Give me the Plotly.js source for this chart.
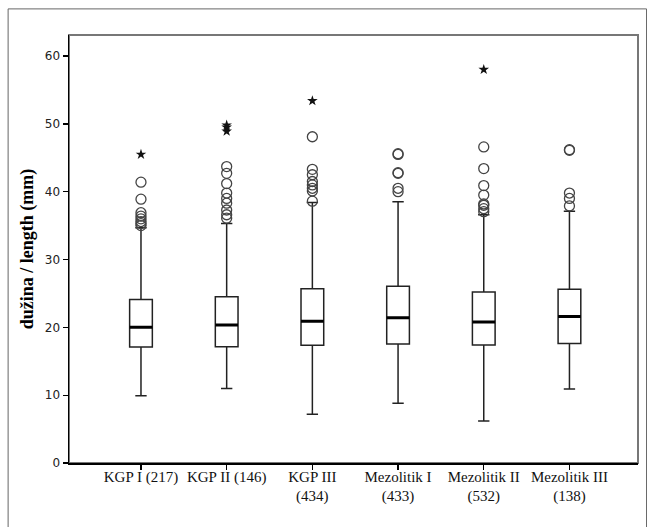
<!DOCTYPE html>
<html>
<head>
<meta charset="utf-8">
<script src="https://cdn.plot.ly/plotly-3.0.1.min.js"></script>
<style>html,body{margin:0;padding:0;background:#fff;}#chart{width:647px;height:527px;}</style>
</head>
<body>
<div id="chart"></div>
<script>
// ---- data (mm) ----
const categories = ["KGP I (217)", "KGP II (146)", "KGP III<br>(434)", "Mezolitik I<br>(433)", "Mezolitik II<br>(532)", "Mezolitik III<br>(138)"];
const q1 = [17.1, 17.15, 17.35, 17.55, 17.4, 17.6];
const medians = [20.0, 20.35, 20.9, 21.4, 20.8, 21.6];
const q3 = [24.1, 24.5, 25.7, 26.05, 25.2, 25.6];
const lowerWhisker = [9.9, 11.0, 7.2, 8.8, 6.2, 10.9];
const upperWhisker = [34.7, 35.3, 38.4, 38.5, 36.6, 37.1];

const outliersKGP1 = [35.0, 35.3, 35.6, 36.0, 36.4, 36.9, 38.9, 41.4];
const outliersKGP2 = [36.1, 36.6, 37.3, 38.3, 39.0, 39.8, 41.2, 42.7, 43.7];
const outliersKGP3 = [38.6, 40.1, 40.5, 41.0, 41.5, 42.5, 43.3, 48.1];
const outliersMez1 = [40.0, 40.5, 42.7, 42.8, 45.5, 45.6];
const outliersMez2 = [37.05, 37.5, 38.0, 38.2, 39.5, 40.9, 43.4, 46.6];
const outliersMez3 = [37.9, 39.0, 39.8, 46.1, 46.2];

const extremesKGP1 = [45.5];
const extremesKGP2 = [48.9, 49.5, 49.8];
const extremesKGP3 = [53.4];
const extremesMez1 = [];
const extremesMez2 = [58.0];
const extremesMez3 = [];

const yTickVals = [0, 10, 20, 30, 40, 50, 60];
const yTitle = "dužina / length (mm)";

// ---- build ----
const outlierGroups = [outliersKGP1, outliersKGP2, outliersKGP3, outliersMez1, outliersMez2, outliersMez3];
const extremeGroups = [extremesKGP1, extremesKGP2, extremesKGP3, extremesMez1, extremesMez2, extremesMez3];
function flatten(groups) {
  const xs = [], ys = [];
  groups.forEach((g, i) => g.forEach(v => { xs.push(categories[i]); ys.push(v); }));
  return {xs, ys};
}
const outl = flatten(outlierGroups);
const extr = flatten(extremeGroups);

const boxW = 0.265;
const traces = [
  {
    type: 'box', x: categories, q1: q1, median: medians, q3: q3,
    lowerfence: lowerWhisker, upperfence: upperWhisker,
    boxpoints: false, width: boxW, whiskerwidth: 0.5,
    fillcolor: '#ffffff', line: {color: '#222', width: 1.5},
    hoverinfo: 'skip', showlegend: false
  },
  {
    // bold median line
    type: 'box', x: categories, q1: medians, median: medians, q3: medians,
    lowerfence: medians, upperfence: medians,
    boxpoints: false, width: boxW, whiskerwidth: 0,
    fillcolor: 'rgba(0,0,0,0)', line: {color: '#000', width: 3},
    hoverinfo: 'skip', showlegend: false
  },
  {
    type: 'scatter', mode: 'markers', x: outl.xs, y: outl.ys,
    marker: {symbol: 'circle-open', size: 10, color: '#444', line: {width: 1.3, color: '#444'}},
    hoverinfo: 'skip', showlegend: false
  },
  {
    type: 'scatter', mode: 'markers', x: extr.xs, y: extr.ys,
    marker: {symbol: 'star', size: 8, color: '#111'},
    hoverinfo: 'skip', showlegend: false
  }
];

const layout = {
  width: 647, height: 527,
  margin: {l: 69, r: 9, t: 35, b: 64, pad: 0},
  paper_bgcolor: '#ffffff', plot_bgcolor: '#ffffff',
  showlegend: false,
  xaxis: {
    type: 'category', range: [-0.84, 5.8],
    showline: true, linecolor: '#000', linewidth: 1.5,
    ticks: 'outside', ticklen: 5, tickcolor: '#000', tickwidth: 1.3,
    ticklabelstandoff: -6,
    showgrid: false, zeroline: false,
    tickfont: {family: 'Liberation Serif, Times New Roman, serif', size: 15, color: '#111'}
  },
  yaxis: {
    range: [0, 63.1], tickvals: yTickVals,
    showline: true, linecolor: '#000', linewidth: 1.5,
    ticks: 'outside', ticklen: 5, tickcolor: '#000', tickwidth: 1.3,
    showgrid: false, zeroline: false,
    tickfont: {family: 'DejaVu Sans, sans-serif', size: 12, color: '#222'},
    title: {text: yTitle, standoff: 6, font: {family: 'Liberation Serif, Times New Roman, serif', size: 18, color: '#000', weight: 'bold'}}
  },
  shapes: [
    {type: 'rect', xref: 'paper', yref: 'paper', x0: 0, x1: 1, y0: 0, y1: 1,
     line: {color: '#777', width: 2}, layer: 'below'},
    {type: 'rect', xref: 'paper', yref: 'paper', x0: -0.107, x1: 1.015, y0: -0.2, y1: 1.061,
     line: {color: '#666', width: 1}, layer: 'below'}
  ]
};

Plotly.newPlot('chart', traces, layout, {staticPlot: true, displayModeBar: false});
</script>
</body>
</html>
